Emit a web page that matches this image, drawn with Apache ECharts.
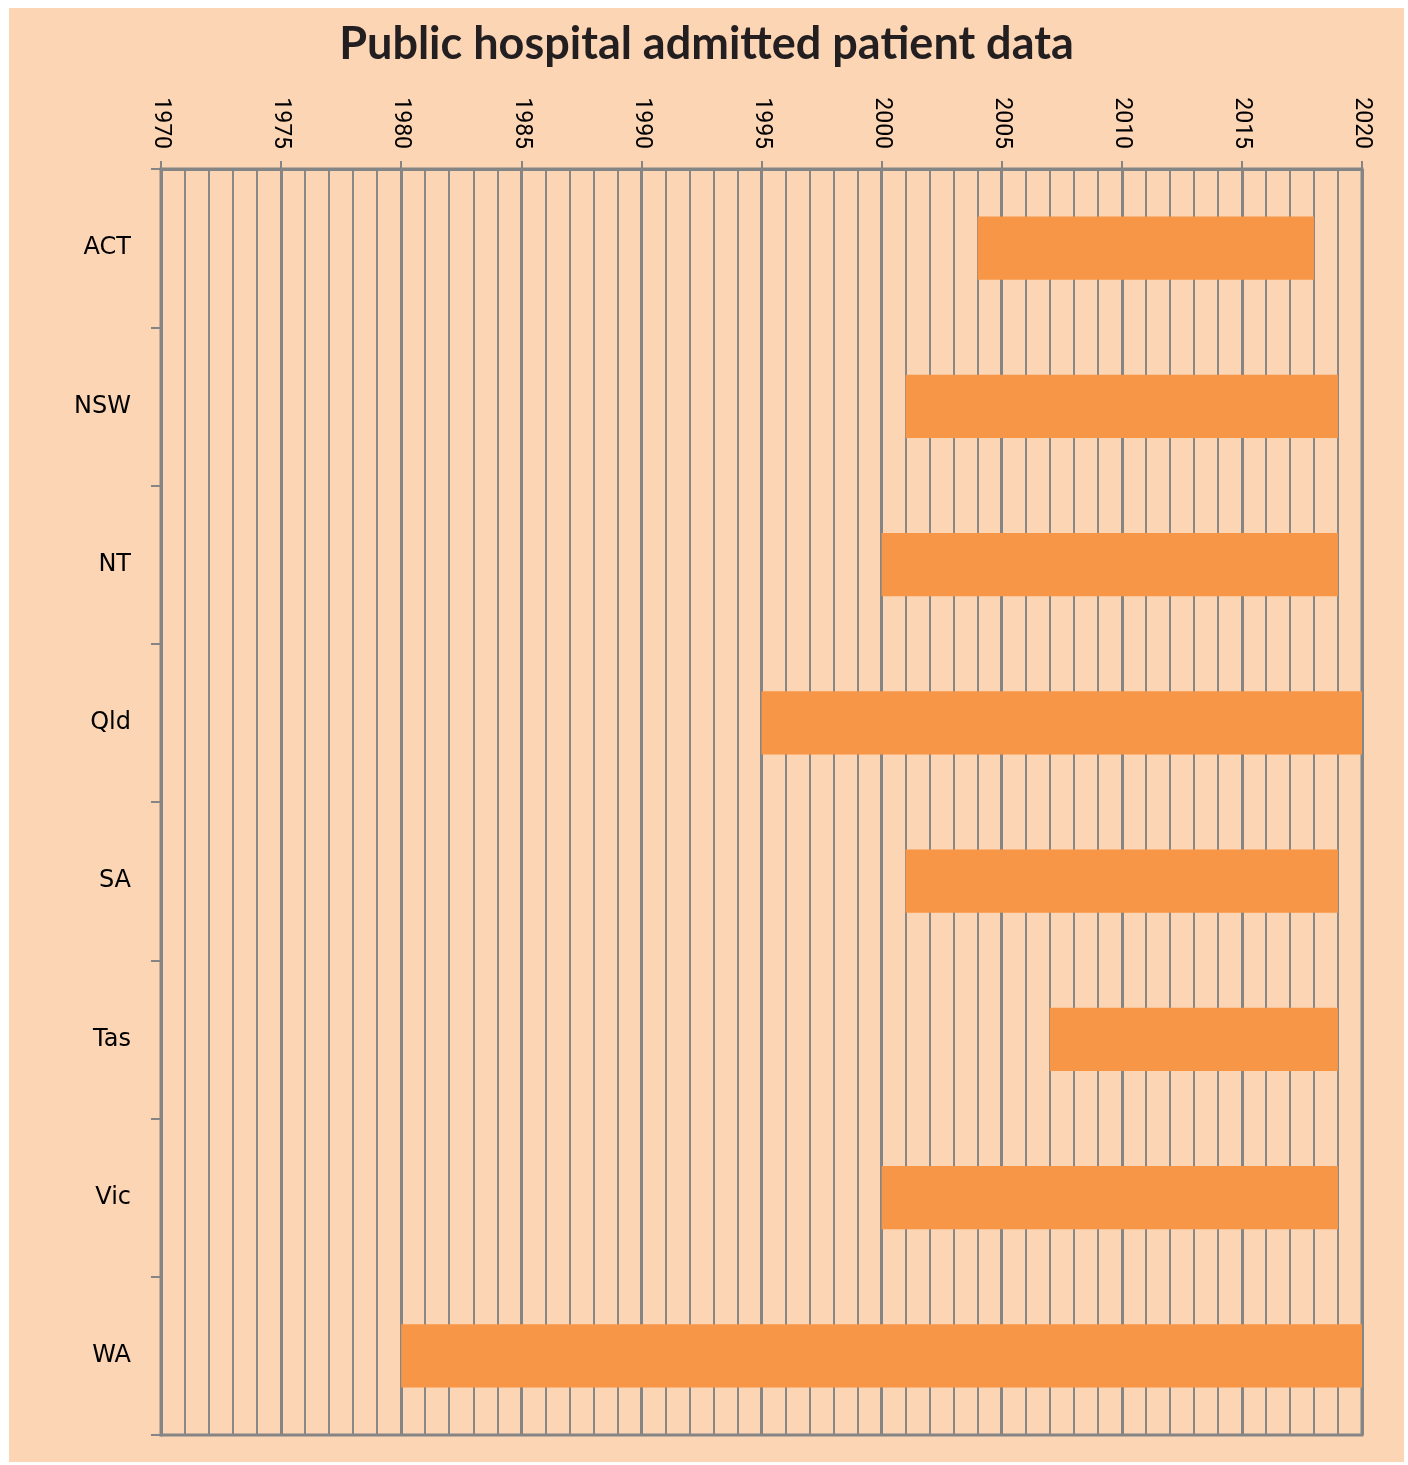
<!DOCTYPE html>
<html>
<head>
<meta charset="utf-8">
<script src="https://cdn.jsdelivr.net/npm/echarts@6/dist/echarts.min.js"></script>
<style>
  html, body { margin: 0; padding: 0; background: #ffffff; }
  #chart { position: absolute; left: 9px; top: 8px; width: 1395px; height: 1454px; background: #FCD5B5; }
</style>
</head>
<body>
<div id="chart"></div>
<script>
const categories = ['ACT', 'NSW', 'NT', 'Qld', 'SA', 'Tas', 'Vic', 'WA'];
const startYears = [2004, 2001, 2000, 1995, 2001, 2007, 2000, 1980];
const endYears   = [2018, 2019, 2019, 2020, 2019, 2019, 2019, 2020];
const axisMin = 1970;
const axisMax = 2020;
const axisStep = 5;

const spans = endYears.map((e, i) => e - startYears[i]);
const gridGray = '#858585';

const chart = echarts.init(document.getElementById('chart'));
chart.setOption({
  animation: false,
  backgroundColor: '#FCD5B5',
  title: {
    text: 'Public hospital admitted patient data',
    left: 'center',
    top: 9,
    textStyle: { fontFamily: 'Lato', fontWeight: 'bold', fontSize: 45, color: '#231F20' }
  },
  grid: {
    left: 152, top: 161, right: 42, bottom: 27,
    show: true, borderColor: gridGray, borderWidth: 3, backgroundColor: 'transparent'
  },
  xAxis: {
    type: 'value',
    position: 'top',
    min: axisMin, max: axisMax, interval: axisStep,
    axisLine: { show: true, lineStyle: { color: gridGray, width: 3 } },
    axisTick: { show: true, length: 8, lineStyle: { color: gridGray, width: 2 } },
    minorTick: { show: false, splitNumber: 5 },
    minorSplitLine: { show: true, lineStyle: { color: '#888888', width: 2 } },
    splitLine: { show: true, lineStyle: { color: gridGray, width: 3 } },
    axisLabel: {
      rotate: 90, margin: 20,
      formatter: function (v) { return String(v); },
      fontFamily: '"Liberation Sans Narrow", "Roboto", sans-serif',
      fontSize: 23, color: '#000'
    }
  },
  yAxis: {
    type: 'category',
    data: categories,
    inverse: true,
    axisLine: { show: true, lineStyle: { color: gridGray, width: 3 } },
    axisTick: { show: true, length: 10, lineStyle: { color: gridGray, width: 2 } },
    splitLine: { show: false },
    axisLabel: { margin: 30, fontFamily: 'DejaVu Sans', fontSize: 24, color: '#000' }
  },
  series: [
    {
      type: 'bar', stack: 'range', silent: true,
      data: startYears,
      itemStyle: { color: 'transparent' },
      barWidth: '40%'
    },
    {
      type: 'bar', stack: 'range', silent: true,
      data: spans,
      itemStyle: { color: '#F79646' },
      barWidth: '40%'
    }
  ]
});
</script>
</body>
</html>
